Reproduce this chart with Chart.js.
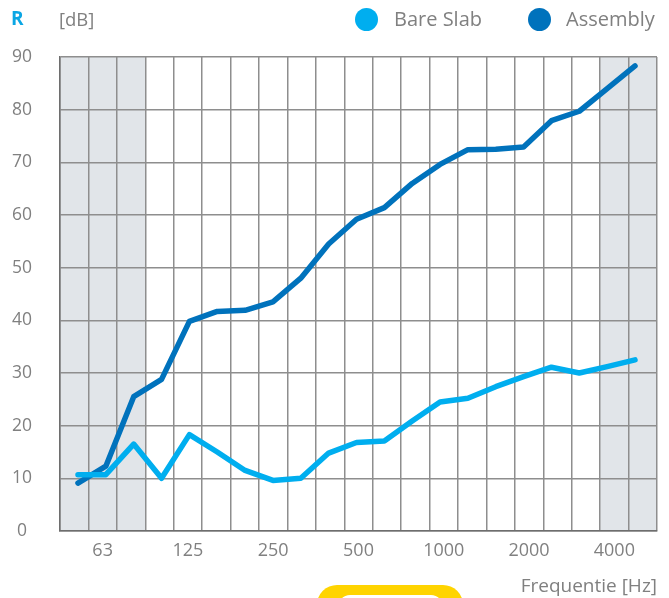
<!DOCTYPE html>
<html>
<head>
<meta charset="utf-8">
<script src="https://cdn.jsdelivr.net/npm/chart.js@4/dist/chart.umd.min.js"></script>
<style>
  html, body { margin: 0; padding: 0; background: #fff; }
  #wrap { position: relative; width: 669px; height: 598px; overflow: hidden; font-family: "Open Sans", sans-serif; }
  #c { position: absolute; left: 0; top: 0; }
  .t { position: absolute; white-space: nowrap; line-height: 1; }
  .dot { position: absolute; width: 23px; height: 23px; border-radius: 50%; }
  #btn { position: absolute; left: 317px; top: 585px; width: 146px; height: 40px; background: #ffd400; border-radius: 21px; }
  #btnIn { position: absolute; left: 21px; top: 10px; width: 105px; height: 30px; background: #fff; border-radius: 12px; }
</style>
</head>
<body>
<div id="wrap">
  <canvas id="c" width="669" height="598"></canvas>
  <div class="t" style="left:11px; top:9px; font-size:19px; font-weight:700; color:#0aa6e4;">R</div>
  <div class="t" style="left:59px; top:10px; font-size:18.5px; color:#808080;">[dB]</div>
  <div class="dot" style="left:355px; top:8px; background:#00aeef;"></div>
  <div class="t" style="left:394px; top:9px; font-size:20px; color:#808080;">Bare Slab</div>
  <div class="dot" style="left:528px; top:8px; background:#0072bc;"></div>
  <div class="t" style="left:566px; top:9px; font-size:20px; color:#808080;">Assembly</div>
  <div id="btn"><div id="btnIn"></div></div>
</div>
<script>
// Third-octave band centre frequencies (Hz)
const bands = [50, 63, 80, 100, 125, 160, 200, 250, 315, 400, 500, 630, 800, 1000, 1250, 1600, 2000, 2500, 3150, 4000, 5000];
// Octave labels shown on the x axis
const tickLabels = ['63', '125', '250', '500', '1000', '2000', '4000'];
// Y axis ticks
const yTicks = [0, 10, 20, 30, 40, 50, 60, 70, 80, 90];
// Sound reduction index R (dB)
const bareSlab = [10.7, 10.7, 16.5, 10.0, 18.3, 15.0, 11.5, 9.6, 10.0, 14.8, 16.8, 17.1, 20.9, 24.5, 25.2, 27.4, 29.3, 31.1, 30.0, 31.2, 32.5];
const assembly = [9.1, 12.3, 25.5, 28.8, 39.8, 41.7, 41.9, 43.5, 48.0, 54.5, 59.2, 61.4, 66.0, 69.6, 72.4, 72.5, 72.9, 77.9, 79.7, 84.0, 88.3];
// Shaded bands (outside the standard range)
const shadedLow = ['50', '63', '80'];
const shadedHigh = ['4000', '5000'];

const shadePlugin = {
  id: 'shade',
  beforeDraw(chart) {
    const {ctx, chartArea: a} = chart;
    const sc = chart.scales.xc;
    const n = bands.length;
    const w = a.width / n;
    ctx.save();
    ctx.fillStyle = '#e1e5e9';
    bands.forEach((b, i) => {
      const s = String(b);
      if (shadedLow.includes(s) || shadedHigh.includes(s)) {
        const cx = sc.getPixelForTick(i);
        ctx.fillRect(cx - w / 2, a.top, w, a.height);
      }
    });
    ctx.restore();
  }
};

const gridColor = '#8e8e8e';
const textColor = '#808080';
new Chart(document.getElementById('c'), {
  type: 'line',
  data: {
    datasets: [
      {
        label: 'Bare Slab',
        data: bareSlab.map((v, i) => ({x: i, y: v})),
        borderColor: '#00aeef',
        backgroundColor: '#00aeef',
        borderWidth: 5.5,
        pointRadius: 0,
        tension: 0,
        borderCapStyle: 'round',
        borderJoinStyle: 'round',
        xAxisID: 'x', yAxisID: 'y'
      },
      {
        label: 'Assembly',
        data: assembly.map((v, i) => ({x: i, y: v})),
        borderColor: '#0072bc',
        backgroundColor: '#0072bc',
        borderWidth: 5.5,
        pointRadius: 0,
        tension: 0,
        borderCapStyle: 'round',
        borderJoinStyle: 'round',
        xAxisID: 'x', yAxisID: 'y'
      }
    ]
  },
  options: {
    responsive: false,
    animation: false,
    devicePixelRatio: 1,
    layout: { padding: { top: 57, right: 12, bottom: 0, left: 0 } },
    plugins: { legend: { display: false }, tooltip: { enabled: false } },
    scales: {
      x: {
        type: 'linear',
        display: false,
        min: -0.646,
        max: 20.79
      },
      xc: {
        type: 'category',
        position: 'bottom',
        labels: bands.map(String),
        offset: true,
        grid: { offset: true, color: gridColor, lineWidth: 1.5, drawTicks: false },
        border: { color: '#6e6e6e', width: 1.5 },
        ticks: {
          autoSkip: false,
          maxRotation: 0,
          padding: 9,
          color: textColor,
          font: { family: 'Open Sans', size: 18 },
          callback: function(val, idx) {
            const l = String(bands[idx]);
            return tickLabels.includes(l) ? l : '';
          }
        },
        title: {
          display: true,
          text: 'Frequentie [Hz]',
          align: 'end',
          color: textColor,
          font: { family: 'Open Sans', size: 19 },
          padding: { top: 0, bottom: 0 }
        },
        afterFit: function(scale) { scale.height = 67; }
      },
      y: {
        type: 'linear',
        position: 'left',
        min: 0,
        max: 90,
        afterBuildTicks: function(scale) { scale.ticks = yTicks.map(v => ({value: v})); },
        grid: { color: gridColor, lineWidth: 1.5, drawTicks: false },
        border: { color: '#6e6e6e', width: 1.5 },
        ticks: {
          crossAlign: 'center',
          padding: 28,
          color: textColor,
          font: { family: 'Open Sans', size: 17.5 }
        },
        afterFit: function(scale) { scale.width = 60; }
      }
    }
  },
  plugins: [shadePlugin]
});
</script>
</body>
</html>
